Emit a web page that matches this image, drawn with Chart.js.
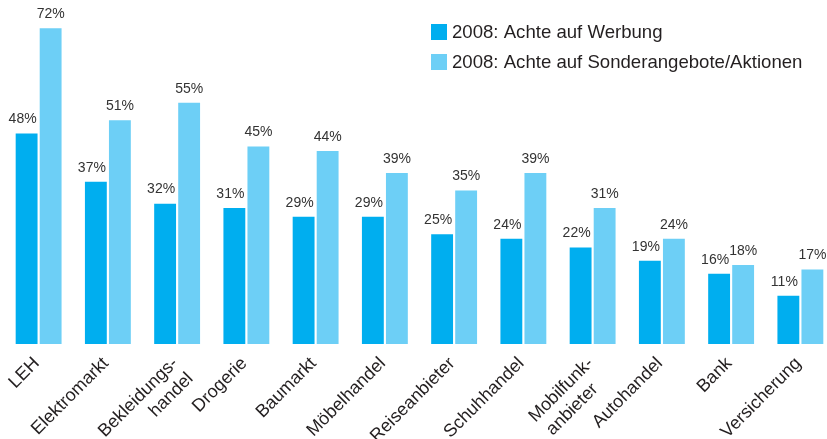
<!DOCTYPE html>
<html>
<head>
<meta charset="utf-8">
<script src="https://cdn.jsdelivr.net/npm/chart.js@4"></script>
<style>
html,body{margin:0;padding:0;background:#fff;overflow:hidden;}
#wrap{position:absolute;left:0;top:0;width:840px;height:439px;}
</style>
</head>
<body>
<div id="wrap"><canvas id="c"></canvas></div>
<script>
const categories = ['LEH', 'Elektromarkt', ['Bekleidungs-', 'handel'], 'Drogerie', 'Baumarkt', 'Möbelhandel', 'Reiseanbieter', 'Schuhhandel', ['Mobilfunk-', 'anbieter   '], 'Autohandel', 'Bank', 'Versicherung'];
const seriesNames = ['2008: Achte auf Werbung', '2008: Achte auf Sonderangebote/Aktionen'];
const werbung = [48, 37, 32, 31, 29, 29, 25, 24, 22, 19, 16, 11];
const sonderangebote = [72, 51, 55, 45, 44, 39, 35, 39, 31, 24, 18, 17];
const colors = ['#00AEEF', '#6DCFF6'];
const FONT = '"Liberation Sans", Arial, sans-serif';

const valueLabels = {
  id: 'valueLabels',
  afterDatasetsDraw(chart) {
    const ctx = chart.ctx;
    ctx.save();
    ctx.font = '14px ' + FONT;
    ctx.fillStyle = '#333333';
    ctx.textAlign = 'center';
    ctx.textBaseline = 'middle';
    chart.data.datasets.forEach((ds, di) => {
      const meta = chart.getDatasetMeta(di);
      meta.data.forEach((bar, i) => {
        const dx = di === 0 ? -4 : 0;
        ctx.fillText(ds.data[i] + '%', bar.x + dx, bar.y - 14);
      });
    });
    ctx.restore();
  }
};

const customLegend = {
  id: 'customLegend',
  afterDraw(chart) {
    const ctx = chart.ctx;
    ctx.save();
    ctx.font = '18.6px ' + FONT;
    ctx.textBaseline = 'middle';
    ctx.textAlign = 'left';
    chart.data.datasets.forEach((ds, di) => {
      const y = 32 + di * 30;
      ctx.fillStyle = ds.backgroundColor;
      ctx.fillRect(431, y - 8, 16, 16);
      ctx.fillStyle = '#231f20';
      ctx.fillText(ds.label, 452, y + 1);
    });
    ctx.restore();
  }
};

new Chart(document.getElementById('c'), {
  type: 'bar',
  data: {
    labels: categories,
    datasets: [
      { label: seriesNames[0], data: werbung, backgroundColor: colors[0] },
      { label: seriesNames[1], data: sonderangebote, backgroundColor: colors[1] }
    ]
  },
  options: {
    responsive: true,
    maintainAspectRatio: false,
    animation: false,
    devicePixelRatio: 1,
    categoryPercentage: 0.694,
    barPercentage: 0.91,
    layout: { padding: { left: 4, right: 5, top: 15, bottom: 0 } },
    plugins: { legend: { display: false }, tooltip: { enabled: false } },
    scales: {
      y: { display: false, min: 0, max: 75 },
      x: {
        grid: { display: false },
        border: { display: false },
        ticks: {
          minRotation: 45,
          maxRotation: 45,
          color: '#231f20',
          font: { family: FONT, size: 18 },
          padding: 1,
          labelOffset: -2
        },
        afterFit(axis) { axis.height = 95; }
      }
    }
  },
  plugins: [valueLabels, customLegend]
});
</script>
</body>
</html>
